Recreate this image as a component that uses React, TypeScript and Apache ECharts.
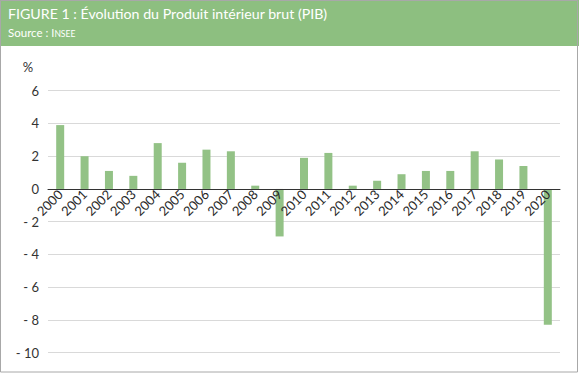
import React, { useEffect, useRef } from "react";
import * as echarts from "echarts";

const years = ["2000","2001","2002","2003","2004","2005","2006","2007","2008","2009","2010","2011","2012","2013","2014","2015","2016","2017","2018","2019","2020"];
const growth = [3.9, 2.0, 1.1, 0.8, 2.8, 1.6, 2.4, 2.3, 0.2, -2.9, 1.9, 2.2, 0.2, 0.5, 0.9, 1.1, 1.1, 2.3, 1.8, 1.4, -8.3];
const titleText = "FIGURE 1 : Évolution du Produit intérieur brut (PIB)";
const unitLabel = "%";
const yMin = -10;
const yMax = 6;

export default function App() {
  const ref = useRef<HTMLDivElement>(null);
  useEffect(() => {
    document.body.style.margin = "0";
    const chart = echarts.init(ref.current!, null, { renderer: "svg" });
    const font = "Lato, 'Open Sans', sans-serif";
    const gridTop = 90.7;
    const gridBottom = 20.3;
    const plotH = 373 - gridTop - gridBottom;
    const zeroOffset = (plotH * (0 - yMin)) / (yMax - yMin);
    chart.setOption({
      animation: false,
      backgroundColor: "#ffffff",
      textStyle: { fontFamily: font },
      grid: { left: 48, right: 19, top: gridTop, bottom: gridBottom, containLabel: false },
      xAxis: {
        type: "category",
        data: years,
        offset: -zeroOffset,
        axisTick: { show: false },
        axisLine: { onZero: false, lineStyle: { color: "#333333", width: 1 } },
        axisLabel: { interval: 0, rotate: 45, fontSize: 13, color: "#2a2a2a", margin: 3, fontFamily: font },
        z: 5,
      },
      yAxis: {
        type: "value",
        min: yMin,
        max: yMax,
        interval: 2,
        axisLine: { show: false },
        axisTick: { show: false },
        splitLine: { lineStyle: { color: "#d9d9d9", width: 1 } },
        axisLabel: {
          fontSize: 13,
          color: "#333333",
          margin: 9,
          fontFamily: font,
          formatter: (v: number) => (v < 0 ? "- " + Math.abs(v) : String(v)),
        },
      },
      series: [
        {
          type: "bar",
          data: growth,
          barWidth: 8,
          itemStyle: { color: "#93c286" },
        },
      ],
      graphic: [
        { type: "rect", shape: { x: 0, y: 0, width: 579, height: 46 }, style: { fill: "#8dbf80" }, z: 0 },
        { type: "rect", shape: { x: 0.5, y: 0.5, width: 577, height: 371.5 }, style: { fill: "none", stroke: "#a8a8a8", lineWidth: 1 }, z: 1 },
        {
          type: "text", x: 8, y: 13,
          style: { text: titleText, fill: "#ffffff", fontSize: 14.2, fontFamily: font, verticalAlign: "middle" },
          z: 2,
        },
        {
          type: "text", x: 8, y: 31,
          style: {
            text: "{a|Source : }{b|I}{c|NSEE}",
            rich: {
              a: { fill: "#ffffff", fontSize: 11.5, fontFamily: font, lineHeight: 14, verticalAlign: "bottom" },
              b: { fill: "#ffffff", fontSize: 11, fontFamily: font, lineHeight: 14, verticalAlign: "bottom" },
              c: { fill: "#ffffff", fontSize: 8.5, fontFamily: font, lineHeight: 12.5, verticalAlign: "bottom" },
            },
            verticalAlign: "middle",
          },
          z: 2,
        },
        {
          type: "text", x: 28, y: 67,
          style: { text: unitLabel, fill: "#333333", fontSize: 13, fontFamily: font, align: "center", verticalAlign: "middle" },
          z: 2,
        },
      ],
    });
    return () => chart.dispose();
  }, []);
  return <div ref={ref} style={{ position: "absolute", left: 0, top: 0, width: 579, height: 373 }} />;
}
